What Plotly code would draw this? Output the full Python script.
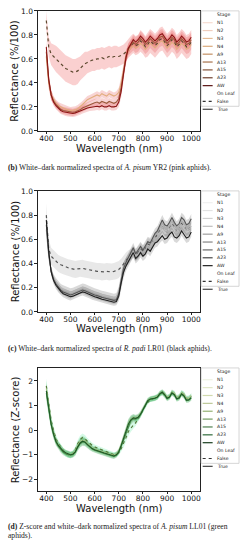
import plotly.graph_objects as go

W, H = 248, 550

# ---------------- data ----------------
wl = list(range(400, 1001, 10))

stages = ["N1", "N2", "N3", "N4", "A9", "A13", "A15", "A23", "AW"]
onleaf = ["False", "True"]
x_ticks = [400, 500, 600, 700, 800, 900, 1000]

captions = [
    "<b>(b)</b> White–dark normalized spectra of <i>A. pisum</i> YR2 (pink aphids).",
    "<b>(c)</b> White–dark normalized spectra of <i>R. padi</i> LR01 (black aphids).",
    "<b>(d)</b> Z-score and white–dark normalized spectra of <i>A. pisum</i> LL01 (green",
]
caption_tail = "aphids)."
ytitles = ["Reflectance (%/100)", "Reflectance (%/100)", "Reflectance (Z-score)"]

# Panel 1 : A. pisum YR2 (pink)
p1_false_mean = [0.92, 0.70, 0.64, 0.62, 0.60, 0.58, 0.56, 0.54, 0.52, 0.51,
                 0.50, 0.49, 0.49, 0.50, 0.52, 0.54, 0.56, 0.57, 0.58, 0.59,
                 0.59, 0.60, 0.60, 0.61, 0.60, 0.61, 0.62, 0.61, 0.62, 0.62,
                 0.62, 0.63, 0.64, 0.66, 0.69, 0.71, 0.73, 0.71, 0.72, 0.75,
                 0.73, 0.70, 0.72, 0.75, 0.73, 0.71, 0.73, 0.76, 0.77, 0.74,
                 0.71, 0.73, 0.76, 0.74, 0.70, 0.72, 0.75, 0.73, 0.70, 0.71,
                 0.74]
p1_false_sd = [0.08, 0.08, 0.09, 0.10, 0.11, 0.11, 0.11, 0.11, 0.11, 0.11,
               0.11, 0.11, 0.11, 0.11, 0.10, 0.10, 0.10, 0.09, 0.09, 0.09,
               0.09, 0.09, 0.09, 0.09, 0.09, 0.09, 0.09, 0.09, 0.09, 0.09,
               0.08, 0.08, 0.08, 0.08, 0.08, 0.08, 0.08, 0.08, 0.08, 0.09,
               0.09, 0.09, 0.10, 0.10, 0.10, 0.10, 0.10, 0.10, 0.10, 0.10,
               0.10, 0.10, 0.10, 0.10, 0.10, 0.10, 0.10, 0.10, 0.10, 0.10,
               0.10]
p1_true_N3 = [0.62, 0.40, 0.30, 0.26, 0.23, 0.21, 0.20, 0.19, 0.18, 0.175,
              0.17, 0.17, 0.175, 0.185, 0.20, 0.22, 0.24, 0.26, 0.27, 0.28,
              0.29, 0.30, 0.29, 0.31, 0.30, 0.29, 0.31, 0.30, 0.29, 0.30,
              0.32, 0.40, 0.52, 0.62, 0.67, 0.69, 0.71, 0.69, 0.70, 0.73,
              0.71, 0.68, 0.70, 0.73, 0.71, 0.69, 0.71, 0.74, 0.75, 0.72,
              0.69, 0.71, 0.74, 0.72, 0.68, 0.70, 0.73, 0.71, 0.68, 0.69,
              0.72]
p1_true_A13 = [0.66, 0.42, 0.30, 0.25, 0.22, 0.20, 0.18, 0.17, 0.165, 0.16,
               0.155, 0.155, 0.16, 0.165, 0.175, 0.19, 0.20, 0.21, 0.22, 0.23,
               0.235, 0.24, 0.23, 0.245, 0.235, 0.23, 0.245, 0.235, 0.23, 0.24,
               0.27, 0.36, 0.50, 0.62, 0.69, 0.72, 0.74, 0.72, 0.74, 0.77,
               0.75, 0.72, 0.74, 0.77, 0.75, 0.73, 0.75, 0.78, 0.79, 0.76,
               0.73, 0.75, 0.78, 0.76, 0.72, 0.74, 0.77, 0.75, 0.72, 0.73,
               0.76]
p1_true_AW = [0.70, 0.43, 0.30, 0.24, 0.21, 0.19, 0.17, 0.16, 0.155, 0.15,
              0.145, 0.145, 0.15, 0.155, 0.165, 0.175, 0.185, 0.19, 0.195, 0.20,
              0.20, 0.205, 0.20, 0.21, 0.20, 0.20, 0.21, 0.20, 0.20, 0.205,
              0.24, 0.33, 0.48, 0.61, 0.69, 0.73, 0.76, 0.74, 0.76, 0.79,
              0.77, 0.74, 0.76, 0.79, 0.77, 0.75, 0.77, 0.80, 0.81, 0.78,
              0.75, 0.77, 0.80, 0.78, 0.74, 0.76, 0.79, 0.77, 0.74, 0.75,
              0.78]
p1_true_sd = [0.06, 0.05, 0.04, 0.03, 0.03, 0.03, 0.03, 0.03, 0.03, 0.03,
              0.03, 0.03, 0.03, 0.03, 0.03, 0.03, 0.03, 0.03, 0.03, 0.03,
              0.03, 0.03, 0.03, 0.03, 0.03, 0.03, 0.03, 0.03, 0.03, 0.03,
              0.04, 0.05, 0.06, 0.05, 0.04, 0.04, 0.04, 0.04, 0.04, 0.04,
              0.04, 0.04, 0.04, 0.04, 0.04, 0.04, 0.04, 0.04, 0.04, 0.04,
              0.04, 0.04, 0.04, 0.04, 0.04, 0.04, 0.04, 0.04, 0.04, 0.04,
              0.04]

# Panel 2 : R. padi LR01 (black)
p2_false_mean = [0.80, 0.52, 0.46, 0.44, 0.42, 0.40, 0.39, 0.38, 0.37, 0.365,
                 0.36, 0.355, 0.35, 0.355, 0.36, 0.36, 0.355, 0.35, 0.345, 0.34,
                 0.34, 0.335, 0.335, 0.33, 0.33, 0.335, 0.33, 0.33, 0.335, 0.34,
                 0.35, 0.37, 0.40, 0.43, 0.45, 0.47, 0.50, 0.47, 0.49, 0.52,
                 0.50, 0.52, 0.56, 0.55, 0.58, 0.61, 0.63, 0.67, 0.70, 0.67,
                 0.66, 0.69, 0.73, 0.70, 0.66, 0.68, 0.73, 0.71, 0.67, 0.68,
                 0.72]
p2_false_sd = [0.10, 0.08, 0.07, 0.07, 0.07, 0.07, 0.07, 0.07, 0.07, 0.07,
               0.07, 0.07, 0.07, 0.07, 0.07, 0.07, 0.07, 0.07, 0.07, 0.07,
               0.07, 0.07, 0.07, 0.07, 0.07, 0.07, 0.07, 0.07, 0.07, 0.07,
               0.07, 0.07, 0.07, 0.06, 0.06, 0.05, 0.05, 0.05, 0.05, 0.05,
               0.05, 0.05, 0.05, 0.05, 0.05, 0.05, 0.05, 0.05, 0.05, 0.05,
               0.05, 0.05, 0.05, 0.05, 0.05, 0.05, 0.05, 0.05, 0.05, 0.05,
               0.05]
p2_true_N4 = [0.68, 0.46, 0.34, 0.28, 0.25, 0.22, 0.20, 0.19, 0.18, 0.17,
              0.165, 0.17, 0.18, 0.19, 0.20, 0.205, 0.20, 0.19, 0.18, 0.17,
              0.165, 0.16, 0.15, 0.145, 0.14, 0.135, 0.13, 0.125, 0.12, 0.125,
              0.17, 0.27, 0.36, 0.41, 0.44, 0.47, 0.50, 0.46, 0.48, 0.51,
              0.49, 0.51, 0.55, 0.54, 0.57, 0.61, 0.62, 0.66, 0.70, 0.67,
              0.66, 0.68, 0.72, 0.69, 0.66, 0.68, 0.72, 0.70, 0.67, 0.68,
              0.71]
p2_true_A15 = [0.72, 0.48, 0.34, 0.27, 0.23, 0.20, 0.18, 0.165, 0.155, 0.145,
               0.14, 0.145, 0.155, 0.165, 0.175, 0.18, 0.175, 0.165, 0.155, 0.145,
               0.14, 0.135, 0.125, 0.12, 0.115, 0.11, 0.105, 0.10, 0.095, 0.10,
               0.15, 0.26, 0.36, 0.41, 0.45, 0.49, 0.53, 0.48, 0.51, 0.54,
               0.51, 0.54, 0.58, 0.57, 0.61, 0.65, 0.67, 0.72, 0.76, 0.72,
               0.71, 0.74, 0.78, 0.74, 0.71, 0.73, 0.78, 0.76, 0.72, 0.73,
               0.77]
p2_true_AW = [0.76, 0.50, 0.33, 0.26, 0.22, 0.19, 0.17, 0.15, 0.14, 0.13,
              0.125, 0.13, 0.14, 0.15, 0.16, 0.165, 0.16, 0.15, 0.14, 0.13,
              0.125, 0.12, 0.11, 0.105, 0.10, 0.095, 0.09, 0.085, 0.08, 0.085,
              0.13, 0.24, 0.33, 0.38, 0.42, 0.45, 0.49, 0.44, 0.46, 0.49,
              0.46, 0.48, 0.52, 0.50, 0.54, 0.57, 0.58, 0.61, 0.63, 0.60,
              0.61, 0.64, 0.66, 0.62, 0.61, 0.63, 0.67, 0.64, 0.61, 0.62,
              0.66]
p2_true_sd = [0.05, 0.04, 0.03, 0.03, 0.03, 0.03, 0.03, 0.03, 0.03, 0.03,
              0.03, 0.03, 0.03, 0.03, 0.03, 0.03, 0.03, 0.03, 0.03, 0.03,
              0.03, 0.03, 0.03, 0.03, 0.03, 0.03, 0.03, 0.03, 0.03, 0.03,
              0.04, 0.05, 0.05, 0.04, 0.04, 0.04, 0.04, 0.04, 0.04, 0.04,
              0.04, 0.04, 0.04, 0.04, 0.04, 0.04, 0.04, 0.04, 0.04, 0.04,
              0.04, 0.04, 0.04, 0.04, 0.04, 0.04, 0.04, 0.04, 0.04, 0.04,
              0.04]

# Panel 3 : A. pisum LL01 (green), Z-score
p3_false_mean = [1.80, 1.00, 0.40, 0.00, -0.35, -0.55, -0.70, -0.85, -0.95, -1.00,
                 -1.02, -0.95, -0.80, -0.55, -0.38, -0.30, -0.35, -0.45, -0.55, -0.62,
                 -0.68, -0.72, -0.75, -0.80, -0.85, -0.88, -0.92, -0.97, -1.00, -0.98,
                 -0.92, -0.75, -0.55, -0.30, -0.05, 0.10, 0.20, 0.30, 0.45, 0.62,
                 0.80, 1.00, 1.15, 1.25, 1.27, 1.30, 1.36, 1.48, 1.52, 1.45,
                 1.32, 1.38, 1.52, 1.47, 1.30, 1.36, 1.52, 1.45, 1.28, 1.30,
                 1.38]
p3_true_N3 = [1.70, 0.95, 0.30, -0.10, -0.42, -0.60, -0.74, -0.84, -0.92, -0.97,
              -0.99, -0.96, -0.84, -0.62, -0.46, -0.40, -0.44, -0.54, -0.64, -0.72,
              -0.77, -0.81, -0.85, -0.88, -0.91, -0.94, -0.97, -1.00, -1.02, -0.97,
              -0.84, -0.58, -0.30, 0.00, 0.28, 0.45, 0.52, 0.50, 0.55, 0.68,
              0.88, 1.08, 1.22, 1.28, 1.30, 1.33, 1.38, 1.50, 1.56, 1.48,
              1.34, 1.38, 1.55, 1.50, 1.33, 1.36, 1.52, 1.46, 1.30, 1.30,
              1.40]
p3_true_A13 = [1.50, 0.85, 0.22, -0.18, -0.48, -0.66, -0.80, -0.90, -0.96, -1.00,
               -1.02, -1.00, -0.90, -0.70, -0.55, -0.48, -0.50, -0.60, -0.70, -0.77,
               -0.82, -0.86, -0.89, -0.92, -0.95, -0.98, -1.01, -1.05, -1.07, -1.02,
               -0.90, -0.66, -0.40, -0.10, 0.20, 0.38, 0.46, 0.45, 0.50, 0.62,
               0.82, 1.02, 1.18, 1.25, 1.27, 1.29, 1.34, 1.46, 1.52, 1.42,
               1.28, 1.33, 1.50, 1.43, 1.26, 1.30, 1.46, 1.38, 1.20, 1.22,
               1.30]
p3_true_AW = [1.60, 0.90, 0.25, -0.15, -0.45, -0.62, -0.75, -0.85, -0.92, -0.97,
              -1.00, -0.98, -0.88, -0.68, -0.52, -0.45, -0.48, -0.58, -0.68, -0.75,
              -0.80, -0.84, -0.87, -0.90, -0.93, -0.96, -0.99, -1.03, -1.05, -1.00,
              -0.88, -0.62, -0.35, -0.05, 0.25, 0.42, 0.50, 0.48, 0.52, 0.65,
              0.85, 1.05, 1.20, 1.27, 1.28, 1.30, 1.35, 1.48, 1.55, 1.45,
              1.30, 1.35, 1.52, 1.45, 1.28, 1.32, 1.48, 1.40, 1.22, 1.24,
              1.32]
p3_sd = [0.30, 0.25, 0.20, 0.18, 0.15, 0.14, 0.13, 0.12, 0.12, 0.12,
         0.12, 0.12, 0.14, 0.15, 0.16, 0.16, 0.15, 0.13, 0.12, 0.11,
         0.10, 0.10, 0.10, 0.10, 0.10, 0.10, 0.10, 0.10, 0.10, 0.10,
         0.10, 0.12, 0.15, 0.18, 0.18, 0.16, 0.14, 0.13, 0.12, 0.11,
         0.10, 0.10, 0.10, 0.10, 0.10, 0.10, 0.10, 0.10, 0.10, 0.10,
         0.10, 0.10, 0.10, 0.10, 0.10, 0.10, 0.10, 0.10, 0.10, 0.10,
         0.10]

# ---------------- styles ----------------
panels = [
    dict(top=7, bottom=129, yrange=[0, 1], ytickvals=[0, 0.2, 0.4, 0.6, 0.8, 1.0], yfmt=".1f",
         false_mean=p1_false_mean, false_sd=p1_false_sd,
         true_lines=[(p1_true_N3, "#e2ad7e"), (p1_true_A13, "#9c5a3c"), (p1_true_AW, "#8b1515")],
         true_sd=p1_true_sd,
         false_band="rgba(240,100,100,0.30)", true_band="rgba(225,60,60,0.22)",
         false_line="#5e4a30",
         leg_colors=["#f6dcd2", "#efcdbd", "#e5bb94", "#d9a97c", "#c28f63", "#a6724c",
                     "#85553a", "#6e3f2c", "#5a1414"],
         xtitle_y=146.7, caption_y=166),
    dict(top=190, bottom=313, yrange=[0, 1], ytickvals=[0, 0.2, 0.4, 0.6, 0.8, 1.0], yfmt=".1f",
         false_mean=p2_false_mean, false_sd=p2_false_sd,
         true_lines=[(p2_true_N4, "#b4b4b4"), (p2_true_A15, "#555555"), (p2_true_AW, "#1e1e1e")],
         true_sd=p2_true_sd,
         false_band="rgba(150,150,150,0.22)", true_band="rgba(80,80,80,0.22)",
         false_line="#555555",
         leg_colors=["#f0f0f0", "#e2e2e2", "#d0d0d0", "#bdbdbd", "#9e9e9e", "#858585",
                     "#6a6a6a", "#474747", "#222222"],
         xtitle_y=330, caption_y=350.7),
    dict(top=370, bottom=495, yrange=[-2.47, 2.53], ytickvals=[-2, -1, 0, 1, 2], yfmt="d",
         false_mean=p3_false_mean, false_sd=p3_sd,
         true_lines=[(p3_true_N3, "#a9c283"), (p3_true_A13, "#4d8c4a"), (p3_true_AW, "#1d5a27")],
         true_sd=p3_sd,
         false_band="rgba(90,235,160,0.25)", true_band="rgba(40,160,70,0.22)",
         false_line="#557a3a",
         leg_colors=["#eef2e2", "#e0e7c8", "#d1daae", "#bcc898", "#95b173", "#729a60",
                     "#4f8050", "#2f6a3a", "#1a3f1f"],
         xtitle_y=513.3, caption_y=531.7),
]

AX_L, AX_R = 38, 201
XRANGE = [365, 1037]
TICKFONT = dict(family="DejaVu Sans", size=7.5, color="#111111")


def px(x):
    return x / W


def py(y):
    return 1 - y / H


def band_trace(mean, sd, color, xa, ya):
    lo = [m - s for m, s in zip(mean, sd)]
    hi = [m + s for m, s in zip(mean, sd)]
    return go.Scatter(x=wl + wl[::-1], y=hi + lo[::-1], fill="toself", fillcolor=color,
                      mode="lines", line=dict(width=0), hoverinfo="skip",
                      showlegend=False, xaxis=xa, yaxis=ya)


fig = go.Figure()
shapes = []
annotations = []

for i, p in enumerate(panels):
    n = "" if i == 0 else str(i + 1)
    xa, ya = "x" + n, "y" + n
    fig.add_trace(band_trace(p["false_mean"], p["false_sd"], p["false_band"], xa, ya))
    for line, col in p["true_lines"]:
        fig.add_trace(band_trace(line, p["true_sd"], p["true_band"], xa, ya))
    fig.add_trace(go.Scatter(x=wl, y=p["false_mean"], mode="lines",
                             line=dict(color=p["false_line"], width=1.2, dash="dot"),
                             showlegend=False, xaxis=xa, yaxis=ya))
    for line, col in p["true_lines"]:
        fig.add_trace(go.Scatter(x=wl, y=line, mode="lines",
                                 line=dict(color=col, width=1.1),
                                 showlegend=False, xaxis=xa, yaxis=ya))

    dom_y = [py(p["bottom"]), py(p["top"])]
    fig.layout["xaxis" + n] = dict(
        domain=[px(AX_L), px(AX_R)], range=XRANGE, anchor=ya, tickvals=x_ticks,
        ticks="outside", ticklen=2.5, tickwidth=0.8, tickcolor="#222222",
        ticklabelstandoff=-2,
        showline=True, mirror=True, linecolor="#222222", linewidth=0.8,
        showgrid=False, zeroline=False, tickfont=TICKFONT, fixedrange=True)
    fig.layout["yaxis" + n] = dict(
        domain=dom_y, range=p["yrange"], anchor=xa, tickvals=p["ytickvals"],
        tickformat=p["yfmt"], ticks="outside", ticklen=2.5, tickwidth=0.8,
        tickcolor="#222222", showline=True, mirror=True, linecolor="#222222",
        linewidth=0.8, showgrid=False, zeroline=False, tickfont=TICKFONT,
        fixedrange=True)

    annotations.append(dict(text="Wavelength (nm)", x=px((AX_L + AX_R) / 2), y=py(p["xtitle_y"]),
                            xref="paper", yref="paper", showarrow=False,
                            xanchor="center", yanchor="middle", borderpad=0,
                            font=dict(family="DejaVu Sans", size=10, color="#111111")))
    annotations.append(dict(text=ytitles[i], x=px(15), y=py((p["top"] + p["bottom"]) / 2),
                            xref="paper", yref="paper", showarrow=False, textangle=-90,
                            xanchor="center", yanchor="middle", borderpad=0,
                            font=dict(family="DejaVu Sans", size=10, color="#111111")))
    annotations.append(dict(text=captions[i], x=px(7), y=py(p["caption_y"]),
                            xref="paper", yref="paper", showarrow=False,
                            xanchor="left", yanchor="middle", borderpad=0,
                            font=dict(family="Liberation Serif", size=7.6, color="#222222")))

    # custom legend
    top = p["top"]
    shapes.append(dict(type="rect", xref="paper", yref="paper",
                       x0=px(202), x1=px(240), y0=py(top + 97), y1=py(top),
                       fillcolor="rgba(255,255,255,0.9)", line=dict(color="#cccccc", width=0.8)))
    labels = ["Stage"] + stages + ["On Leaf"] + onleaf
    for j, lab in enumerate(labels):
        yy = top + 4 + 8 * j
        annotations.append(dict(text=lab, x=px(216.5), y=py(yy), xref="paper", yref="paper",
                                showarrow=False, xanchor="left", yanchor="middle", borderpad=0,
                                font=dict(family="DejaVu Sans", size=4.6, color="#222222")))
        if 1 <= j <= 9:
            shapes.append(dict(type="line", xref="paper", yref="paper",
                               x0=px(203.5), x1=px(213.5), y0=py(yy), y1=py(yy),
                               line=dict(color=p["leg_colors"][j - 1], width=1.2)))
        elif j == 11:
            shapes.append(dict(type="line", xref="paper", yref="paper",
                               x0=px(203.5), x1=px(213.5), y0=py(yy), y1=py(yy),
                               line=dict(color="#333333", width=1.1, dash="dot")))
        elif j == 12:
            shapes.append(dict(type="line", xref="paper", yref="paper",
                               x0=px(203.5), x1=px(213.5), y0=py(yy), y1=py(yy),
                               line=dict(color="#333333", width=1.1)))

annotations.append(dict(text=caption_tail, x=px(7), y=py(540), xref="paper", yref="paper",
                        showarrow=False, xanchor="left", yanchor="middle", borderpad=0,
                        font=dict(family="Liberation Serif", size=7.6, color="#222222")))

fig.update_layout(width=W, height=H, margin=dict(l=0, r=0, t=0, b=0),
                  paper_bgcolor="white", plot_bgcolor="white",
                  showlegend=False, shapes=shapes, annotations=annotations)

# remove the default 8px page margin so the figure sits at the window origin
fig.write_html("out.html", config={"displayModeBar": False},
               post_script="document.body.style.margin='0';document.body.style.overflow='hidden';")
